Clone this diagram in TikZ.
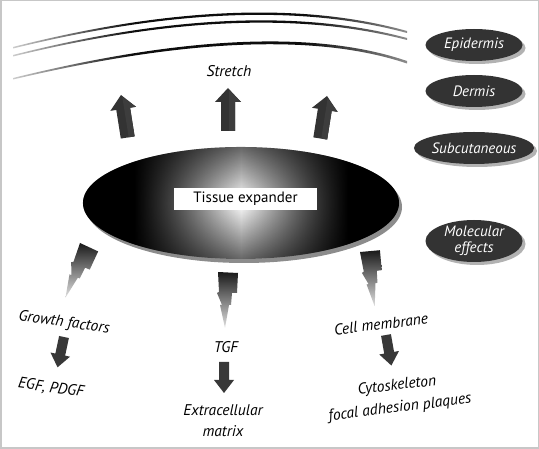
\documentclass[tikz,border=0pt]{standalone}
\usepackage{fontspec}
\setmainfont{PT Sans}
\usetikzlibrary{fadings}
\usetikzlibrary{shapes.geometric,shadows}

\pgfdeclarehorizontalshading{expandershade}{100bp}{color(0bp)=(black); color(33bp)=(black); color(50bp)=(white); color(67bp)=(black); color(100bp)=(black)}
\pgfdeclarehorizontalshading{layershade}{100bp}{color(0bp)=(black!20); color(25bp)=(black!20); color(40bp)=(black!95); color(62bp)=(black!95); color(75bp)=(black!45); color(100bp)=(black!45)}
\tikzfading[name=rimfade, inner color=transparent!100, outer color=transparent!40]

\tikzset{
	layer/.style={ellipse, fill=black!80, text=white, inner sep=0pt,
		minimum width=97pt, minimum height=32pt, align=center,
		font=\itshape\fontsize{15}{16}\selectfont,
		drop shadow={shadow xshift=3pt, shadow yshift=-3pt, fill=black!30, opacity=1}},
	caption/.style={align=center, inner sep=1pt, font=\itshape\fontsize{15.5}{21}\selectfont},
}

\begin{document}
\begin{tikzpicture}[x=1pt,y=-1pt]
	\useasboundingbox (0,0) rectangle (539,449);
	\draw[black!22, line width=1.5pt] (0.75,0.75) rectangle (538.25,448.25);
	
	% skin layers
	\shade[shading=layershade] (13,47) .. controls (171,7) and (302,2) .. (407,31)
		-- (407,33) .. controls (302,4.5) and (171,9.5) .. (13,48.5) -- cycle;
	\shade[shading=layershade] (13,55) .. controls (171,15) and (302,10) .. (407,38)
		-- (407,40) .. controls (302,12.5) and (171,17.5) .. (13,56.5) -- cycle;
	\shade[shading=layershade] (13,78) .. controls (184,36) and (316,30) .. (407,61)
		-- (407,63.5) .. controls (316,33) and (184,39) .. (13,79.5) -- cycle;
	
	% layer labels
	\node[layer] (epidermis) at (474,45) {Epidermis};
	\node[layer] (dermis) at (474,91) {Dermis};
	\node[layer] (subcut) at (474,148) {Subcutaneous};
	\node[layer, minimum height=42pt] (molecular) at (474,241) {Molecular\\effects};
	
	% stretch arrows
	\foreach \ax/\ay/\ang in {121/95/9, 228/88/0, 327/96/-9}{
		\begin{scope}[shift={(\ax,\ay)}, rotate=\ang]
			\fill[black!80] (0,0) -- (13,14) -- (7,14) -- (7,43) -- (-7,43) -- (-7,14) -- (-13,14) -- cycle;
			\fill[black!76] (1,2) -- (13,14) -- (7,14) -- (7,43) -- (1,43) -- cycle;
		\end{scope}
	}
	\node[caption] (stretch) at (229,71) {Stretch};
	
	% expander
	\fill[black!45] (244,207) ellipse (158 and 56);
	\shade[shading=expandershade] (241,203) ellipse (158 and 56);
	\fill[black, path fading=rimfade] (241,203) ellipse (158 and 56);
	\node[fill=white, minimum width=143pt, minimum height=22pt, inner sep=0pt,
		font=\fontsize{15}{16}\selectfont] (expander) at (245.5,199) {Tissue expander};
	
	% molecular signals
	\foreach \bx/\by/\ang in {80/243/-22, 218/272/0, 360/252/8}{
		\shade[top color=black!90, bottom color=black!12, shift={(\bx,\by)}, rotate=\ang]
			(0,0) -- (20,1) -- (19,21) -- (14,21) -- (13,33) -- (11,33) -- (7,56)
			-- (2,33) -- (4,33) -- (-1,21) -- (1,20) -- cycle;
	}
	\foreach \dx/\dy/\ang in {64/337/-12, 224/362/0, 386/335/10}{
		\fill[black!78, shift={(\dx,\dy)}, rotate=\ang]
			(-5,0) -- (5,0) -- (5,18) -- (10,18) -- (0,31) -- (-10,18) -- (-5,18) -- cycle;
	}
	
	\node[caption, rotate=-8] (growth) at (64,323) {Growth factors};
	\node[caption, rotate=-8] (egf) at (51,388) {EGF, PDGF};
	\node[caption] (tgf) at (226,347) {TGF};
	\node[caption] (ecm) at (223,421) {Extracellular\\matrix};
	\node[caption, rotate=7] (membrane) at (381,324) {Cell membrane};
	\node[caption, rotate=7] (cyto) at (397,386) {Cytoskeleton};
	\node[caption, rotate=7] (plaques) at (400,408) {focal adhesion plaques};
\end{tikzpicture}
\end{document}
